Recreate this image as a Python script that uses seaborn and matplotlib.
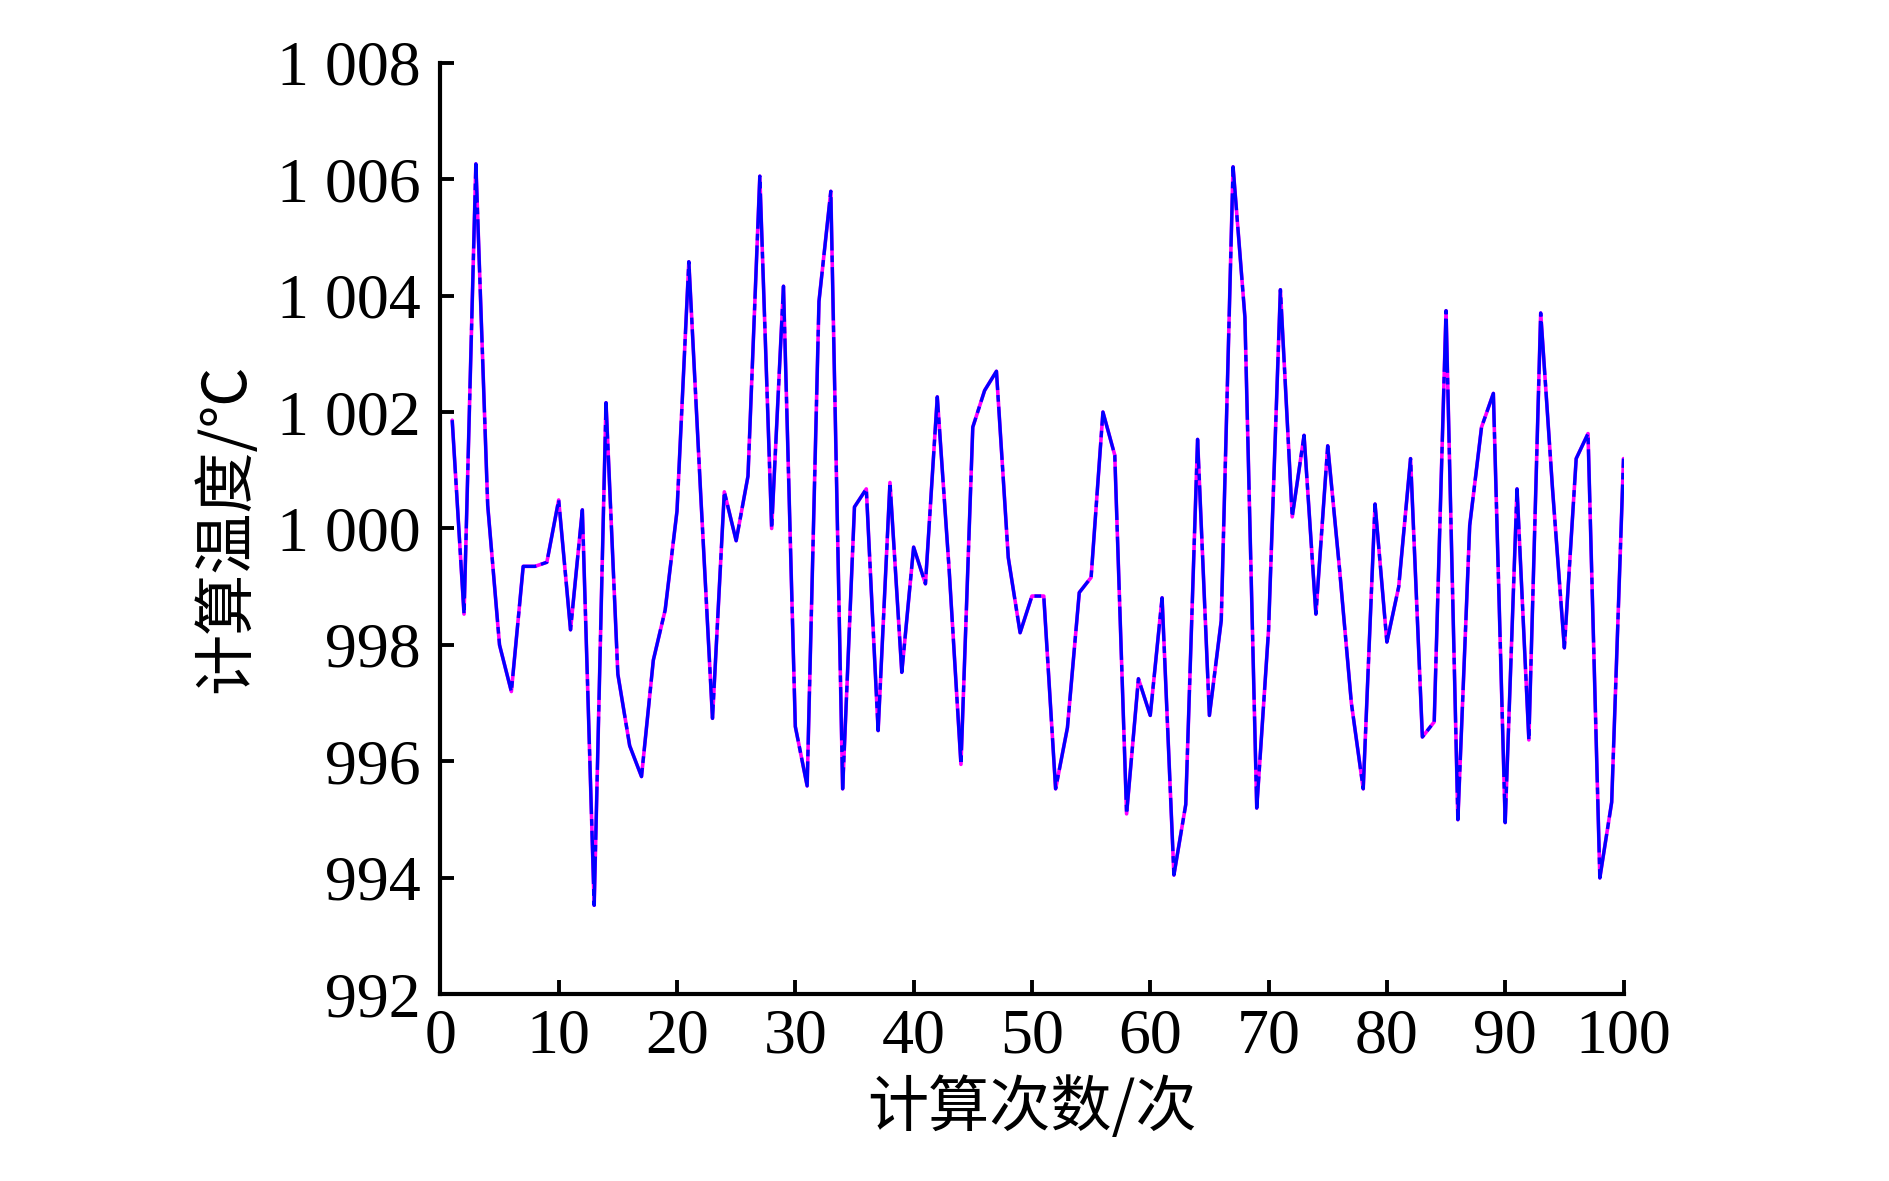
import numpy as np
import pandas as pd
import matplotlib
matplotlib.use("Agg")
import matplotlib.pyplot as plt
import matplotlib.ticker as ticker
import seaborn as sns

# calculation index and calculated temperature (two nearly identical runs)
runs = list(range(1, 101))
temp_vals = [
    1001.86, 998.53, 1006.26, 1000.4, 998.0, 997.2, 999.35, 999.35, 999.42, 1000.49,
    998.26, 1000.32, 993.53, 1002.16, 997.5, 996.27, 995.74, 997.74, 998.6, 1000.3,
    1004.58, 1000.6, 996.74, 1000.63, 999.79, 1000.9, 1006.05, 1000.0, 1004.16, 996.6,
    995.58, 1003.9, 1005.79, 995.53, 1000.37, 1000.68, 996.53, 1000.79, 997.53, 999.68,
    999.05, 1002.26, 999.3, 995.95, 1001.74, 1002.37, 1002.7, 999.5, 998.21, 998.84,
    998.84, 995.53, 996.58, 998.9, 999.16, 1002.0, 1001.26, 995.1, 997.42, 996.79,
    998.81, 994.05, 995.26, 1001.53, 996.79, 998.42, 1006.21, 1003.63, 995.2, 998.26,
    1004.1, 1000.2, 1001.6, 998.53, 1001.42, 999.3, 997.0, 995.53, 1000.42, 998.05,
    999.0, 1001.2, 996.42, 996.68, 1003.74, 995.0, 1000.05, 1001.74, 1002.32, 994.95,
    1000.68, 996.37, 1003.7, 1000.68, 997.95, 1001.2, 1001.63, 994.0, 995.3, 1001.2,
]
x_ticks = list(range(0, 101, 10))
y_ticks = list(range(992, 1009, 2))
y_tick_labels = [f"{v:,}".replace(",", " ") for v in y_ticks]

sns.set_theme(style="ticks")
plt.rcParams["font.family"] = ["Liberation Serif", "Noto Sans CJK SC", "DejaVu Sans"]
plt.rcParams["text.color"] = "black"
plt.rcParams["axes.labelcolor"] = "black"
plt.rcParams["xtick.color"] = "black"
plt.rcParams["ytick.color"] = "black"

df = pd.DataFrame({"run": runs, "temp": temp_vals})

fig = plt.figure(figsize=(18.9, 11.81), dpi=100)
ax = fig.add_axes([0.233, 0.158, 0.626, 0.789])

sns.lineplot(data=df, x="run", y="temp", ax=ax, color="#FF00FF", lw=2.6, estimator=None)
sns.lineplot(data=df, x="run", y="temp", ax=ax, color="#0000FF", lw=2.4, estimator=None,
             linestyle=(0, (16, 1.5, 2, 1.5)))

ax.set_xlim(0, 100)
ax.set_ylim(992, 1008)
ax.set_xticks(x_ticks)
ax.set_yticks(y_ticks)
ax.set_yticklabels(y_tick_labels)
ax.tick_params(direction="in", length=10, width=2.8, labelsize=46, pad=14,
               colors="black", labelcolor="black")
ax.tick_params(axis="x", pad=10)
for side in ["top", "right"]:
    ax.spines[side].set_visible(False)
for side in ["left", "bottom"]:
    ax.spines[side].set_linewidth(3.0)
    ax.spines[side].set_color("black")

ax.set_xlabel("计算次数/次", fontsize=44, labelpad=8, color="black",
              family=["Noto Sans CJK SC", "Liberation Serif"])
ax.set_ylabel("计算温度/℃", fontsize=44, labelpad=14, color="black",
              family=["Noto Sans CJK SC", "Liberation Serif"])
ax.grid(False)

fig.savefig("out.png", dpi=100)
plt.close(fig)
